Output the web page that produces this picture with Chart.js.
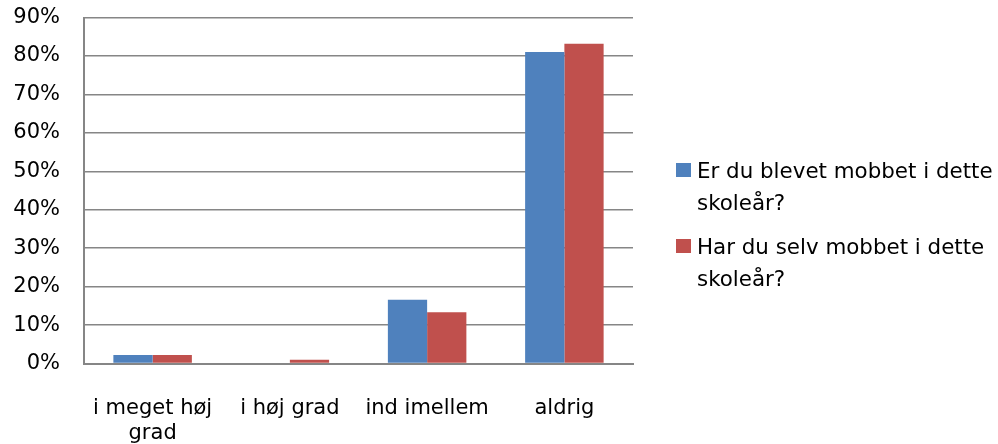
<!DOCTYPE html>
<html>
<head>
<meta charset="utf-8">
<script src="https://cdn.jsdelivr.net/npm/chart.js@4/dist/chart.umd.min.js"></script>
<style>
  html, body { margin: 0; padding: 0; background: #fff; }
  #wrap { position: relative; width: 998px; height: 444px; }
  #legend {
    position: absolute; left: 676px; top: 155px; width: 322px;
    font-family: "DejaVu Sans", sans-serif; font-size: 21.4px; color: #000;
  }
  .item { display: flex; align-items: flex-start; margin-bottom: 12px; line-height: 32px; }
  .box { width: 15px; height: 14px; margin-top: 8px; margin-right: 6px; flex: none; }
</style>
</head>
<body>
<div id="wrap">
  <canvas id="chart" width="998" height="444"></canvas>
  <div id="legend"></div>
</div>
<script>
// categories and values (percent)
const categories = [["i meget høj", "grad"], "i høj grad", "ind imellem", "aldrig"];
const seriesNames = ["Er du blevet mobbet i dette skoleår?", "Har du selv mobbet i dette skoleår?"];
const blevetMobbet = [2.2, 0, 16.6, 81.0];
const selvMobbet = [2.2, 1.0, 13.3, 83.2];
const seriesColors = ["#4F81BD", "#C0504D"];

const FONT = "'DejaVu Sans', sans-serif";

const ctx = document.getElementById("chart").getContext("2d");
const chart = new Chart(ctx, {
  type: "bar",
  data: {
    labels: categories,
    datasets: [
      { label: seriesNames[0], data: blevetMobbet, backgroundColor: seriesColors[0] },
      { label: seriesNames[1], data: selvMobbet, backgroundColor: seriesColors[1] }
    ]
  },
  options: {
    responsive: false,
    animation: false,
    layout: { padding: { left: 0, right: 365, top: 17.5, bottom: 0 } },
    datasets: { bar: { barPercentage: 1.0, categoryPercentage: 0.572 } },
    plugins: { legend: { display: false }, tooltip: { enabled: false } },
    scales: {
      x: {
        grid: { display: false, drawTicks: false },
        border: { color: "#868686", width: 2 },
        ticks: { color: "#000", font: { family: FONT, size: 21 }, padding: 32, maxRotation: 0 },
        // fixed axis band so the plot bottom sits where the original has it
        afterFit: s => { s.height = 80.5; s.paddingLeft = 0; s.paddingRight = 0; }
      },
      y: {
        min: 0, max: 90,
        grid: { color: "#868686", lineWidth: 1.5, drawTicks: false },
        border: { color: "#868686", width: 2 },
        ticks: {
          stepSize: 10, color: "#000", padding: 24,
          font: { family: FONT, size: 21 },
          callback: v => v + "%"
        },
        afterFit: s => { s.width = 84; s.paddingTop = 0; s.paddingBottom = 0; }
      }
    }
  }
});

// html legend so the long series names can wrap like the original
const legend = document.getElementById("legend");
chart.data.datasets.forEach(ds => {
  const item = document.createElement("div");
  item.className = "item";
  item.innerHTML = `<span class="box" style="background:${ds.backgroundColor}"></span><span>${ds.label}</span>`;
  legend.appendChild(item);
});
</script>
</body>
</html>
